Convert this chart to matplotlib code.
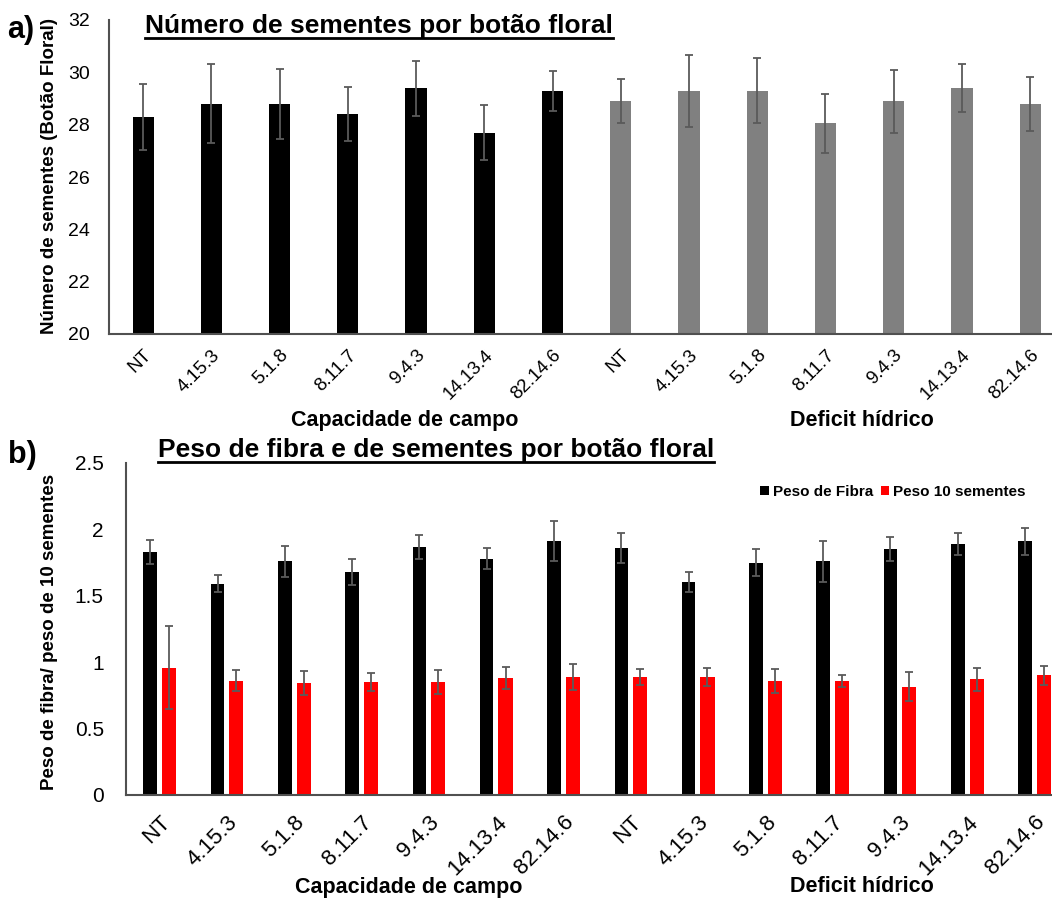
import numpy as np
import matplotlib.pyplot as plt
from matplotlib.lines import Line2D

plt.rcParams['font.family'] = ['Liberation Sans', 'DejaVu Sans']

W, H = 1052, 899

cats = ['NT', '4.15.3', '5.1.8', '8.11.7', '9.4.3', '14.13.4', '82.14.6',
        'NT', '4.15.3', '5.1.8', '8.11.7', '9.4.3', '14.13.4', '82.14.6']
grupos = ['Capacidade de campo', 'Deficit hídrico']

# a) numero de sementes por botao floral
sementes_n = [28.3, 28.8, 28.8, 28.4, 29.4, 27.7, 29.3,
              28.9, 29.3, 29.3, 28.05, 28.9, 29.4, 28.8]
sementes_n_err = [1.25, 1.5, 1.33, 1.04, 1.05, 1.04, 0.77,
                  0.85, 1.38, 1.23, 1.12, 1.2, 0.92, 1.03]

# b) peso de fibra e peso de 10 sementes
fibra = [1.83, 1.59, 1.76, 1.68, 1.87, 1.78, 1.91,
         1.86, 1.605, 1.75, 1.76, 1.85, 1.89, 1.91]
fibra_err = [0.09, 0.065, 0.115, 0.095, 0.09, 0.08, 0.15,
             0.115, 0.075, 0.1, 0.155, 0.09, 0.08, 0.1]
peso10 = [0.96, 0.86, 0.84, 0.85, 0.85, 0.88, 0.89,
          0.89, 0.89, 0.86, 0.86, 0.815, 0.87, 0.9]
peso10_err = [0.31, 0.08, 0.09, 0.07, 0.09, 0.085, 0.1,
              0.06, 0.07, 0.09, 0.045, 0.11, 0.085, 0.07]


def px(x, y):
    return x / W, 1 - y / H


def ax_rect(left, top, right, bottom):
    return [left / W, 1 - bottom / H, (right - left) / W, (bottom - top) / H]


def underlined(fig, x, y, s, size):
    t = fig.text(*px(x, y), s, fontsize=size, fontweight='bold',
                 ha='left', va='baseline')
    fig.canvas.draw()
    bb = t.get_window_extent().transformed(fig.transFigure.inverted())
    yl = 1 - (y + 5) / H
    fig.add_artist(Line2D([bb.x0, bb.x1], [yl, yl], color='black', lw=2,
                          transform=fig.transFigure))


def style(ax):
    for s in ['top', 'right']:
        ax.spines[s].set_visible(False)
    for s in ['left', 'bottom']:
        ax.spines[s].set_color('#505050')
        ax.spines[s].set_linewidth(1.5)
    ax.tick_params(length=0)


fig = plt.figure(figsize=(W / 100, H / 100), dpi=100)
x = np.arange(len(cats))
cores = ['black'] * 7 + ['#808080'] * 7

# ---- panel a
ax1 = fig.add_axes(ax_rect(109, 20, 1052, 334))
ax1.bar(x, [v - 20 for v in sementes_n], bottom=20, width=0.31, color=cores,
        yerr=sementes_n_err, error_kw=dict(ecolor='#5a5a5a', elinewidth=1.3,
                                             capsize=3, capthick=1.3))
ax1.set_xlim(-0.5, 13.32)
ax1.set_ylim(20, 32)
ax1.set_yticks(np.arange(20, 33, 2))
ax1.tick_params(axis='y', labelsize=14, pad=14)
ax1.set_xticks(x)
ax1.set_xticklabels(cats, rotation=45, ha='right', rotation_mode='anchor',
                    fontsize=13.5)
ax1.tick_params(axis='x', pad=9)
style(ax1)

fig.text(*px(7, 30), 'a)', fontsize=22, fontweight='bold', va='center')
fig.text(*px(50, 176), 'Número de sementes (Botão Floral)', rotation=90,
         fontsize=13.5, fontweight='bold', ha='center', va='center')
underlined(fig, 145, 33, 'Número de sementes por botão floral', 19)
fig.text(*px(405, 420), grupos[0], fontsize=15.5, fontweight='bold',
         ha='center', va='center')
fig.text(*px(862, 420), grupos[1], fontsize=15.5, fontweight='bold',
         ha='center', va='center')

# ---- panel b
ax2 = fig.add_axes(ax_rect(126, 463, 1052, 795))
ek = dict(ecolor='#5a5a5a', elinewidth=1.3, capsize=3, capthick=1.3)
b1 = ax2.bar(x - 0.14, fibra, width=0.2, color='black', yerr=fibra_err,
             error_kw=ek, label='Peso de Fibra')
b2 = ax2.bar(x + 0.14, peso10, width=0.21, color='#ff0000', yerr=peso10_err,
             error_kw=ek, label='Peso 10 sementes')
ax2.set_xlim(-0.5, 13.26)
ax2.set_ylim(0, 2.5)
ax2.set_yticks([0, 0.5, 1, 1.5, 2, 2.5])
ax2.set_yticklabels(['0', '0.5', '1', '1.5', '2', '2.5'])
ax2.tick_params(axis='y', labelsize=15, pad=16)
ax2.set_xticks(x)
ax2.set_xticklabels(cats, rotation=45, ha='right', rotation_mode='anchor',
                    fontsize=16)
ax2.tick_params(axis='x', pad=12)
style(ax2)

ax2.legend(handles=[b1, b2], loc='upper right', ncol=2, frameon=False,
           bbox_to_anchor=(1036 / W, 1 - 474 / H),
           bbox_transform=fig.transFigure, handlelength=0.55,
           handleheight=0.55, handletextpad=0.25, columnspacing=0.5,
           borderpad=0.2, prop=dict(weight='bold', size=11))

fig.text(*px(8, 455), 'b)', fontsize=22, fontweight='bold', va='center')
fig.text(*px(50, 632), 'Peso de fibra/ peso de 10 sementes', rotation=90,
         fontsize=13.5, fontweight='bold', ha='center', va='center')
underlined(fig, 158, 457, 'Peso de fibra e de sementes por botão floral', 19)
fig.text(*px(409, 887), grupos[0], fontsize=15.5, fontweight='bold',
         ha='center', va='center')
fig.text(*px(862, 887), grupos[1], fontsize=15.5, fontweight='bold',
         ha='center', va='center')

fig.savefig('out.png', dpi=100)
